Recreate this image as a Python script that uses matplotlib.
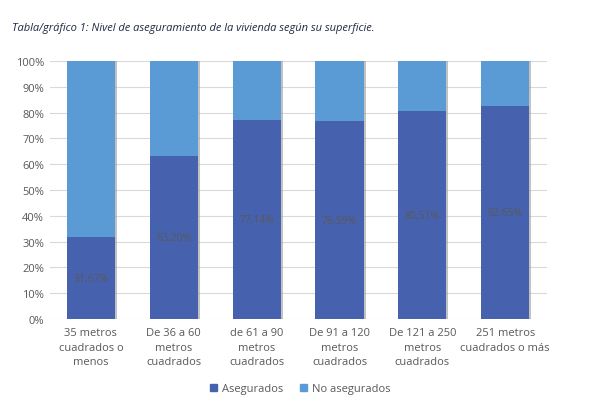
import matplotlib
matplotlib.use("Agg")
import matplotlib.pyplot as plt
import matplotlib.patheffects as pe
from matplotlib.patches import Patch
import numpy as np

categories = ["35 metros\ncuadrados o\nmenos", "De 36 a 60\nmetros\ncuadrados",
              "de 61 a 90\nmetros\ncuadrados", "De 91 a 120\nmetros\ncuadrados",
              "De 121 a 250\nmetros\ncuadrados", "251 metros\ncuadrados o más"]
asegurados = [31.67, 63.20, 77.14, 76.59, 80.51, 82.65]
no_asegurados = [100 - v for v in asegurados]

plt.rcParams['font.family'] = ['Open Sans', 'DejaVu Sans']
grey = '#595959'
dark = '#4662AE'
light = '#5B9BD5'

fig = plt.figure(figsize=(6, 4.02), dpi=100)
ax = fig.add_axes([0.0825, 0.204, 0.8285, 0.642])

x = np.arange(len(categories))
# soft shadow on the right side of each bar, like the original spreadsheet chart
shadow = [pe.SimplePatchShadow(offset=(1.5, 0), shadow_rgbFace='#9a9a9a', alpha=0.6), pe.Normal()]
ax.bar(x, asegurados, width=0.58, color=dark, zorder=3, path_effects=shadow)
ax.bar(x, no_asegurados, width=0.58, bottom=asegurados, color=light, zorder=3, path_effects=shadow)

for xi, v in zip(x, asegurados):
    ax.text(xi, v / 2, f"{v:.2f}%".replace('.', ','), ha='center', va='center', fontsize=7.5,
            color=grey, zorder=4)

ax.set_xlim(-0.5, len(categories) - 0.5)
ax.set_ylim(0, 100)
ax.set_yticks(range(0, 101, 10))
ax.set_yticklabels([f"{t}%" for t in range(0, 101, 10)])
ax.set_xticks(x)
ax.set_xticklabels(categories, linespacing=1.4)
ax.grid(axis='y', color='#d9d9d9', linewidth=0.8, zorder=0)
for s in ax.spines.values():
    s.set_visible(False)
ax.tick_params(axis='both', length=0, labelsize=8, colors=grey, pad=6)
ax.tick_params(axis='y', pad=4)

fig.text(0.02, 0.93, "Tabla/gráfico 1: Nivel de aseguramiento de la vivienda según su superficie.",
         fontsize=8, style='italic', color='#1f2a44', va='center')

handles = [Patch(color=dark, label='Asegurados'), Patch(color=light, label='No asegurados')]
fig.legend(handles=handles, loc='center', bbox_to_anchor=(0.5, 0.03), ncol=2, frameon=False,
           fontsize=8, handlelength=0.7, handleheight=0.7, handletextpad=0.4, columnspacing=1.5,
           labelcolor=grey)

fig.savefig('out.png', dpi=100)
